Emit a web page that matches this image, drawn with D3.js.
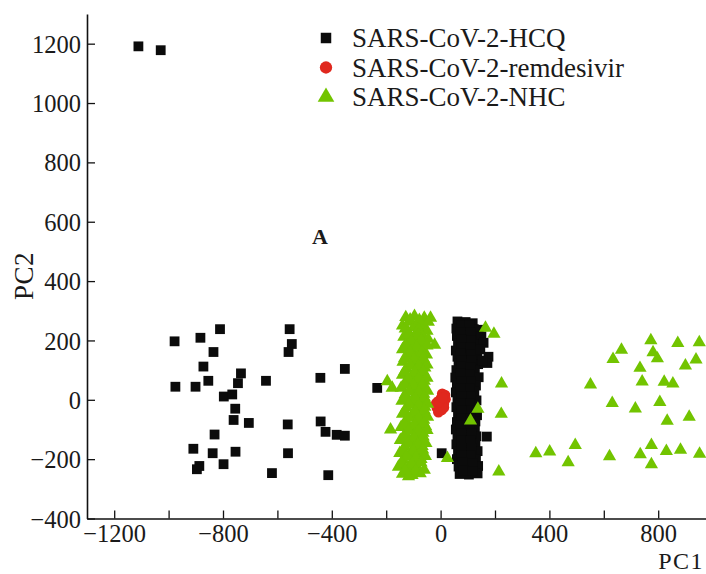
<!DOCTYPE html>
<html>
<head>
<meta charset="utf-8">
<script src="https://cdn.jsdelivr.net/npm/d3@7"></script>
<style>
  html, body { margin: 0; padding: 0; background: #fff; }
  svg text { font-family: "Liberation Serif", "Times New Roman", serif; fill: #1a1a1a; }
</style>
</head>
<body>
<svg id="chart" width="706" height="574"></svg>
<script>
// PCA scores [PC1, PC2] for each trajectory set
const seriesNames = ["SARS-CoV-2-HCQ", "SARS-CoV-2-remdesivir", "SARS-CoV-2-NHC"];
const seriesColors = ["#0b0b0b", "#e0281e", "#72c400"];

const hcqPoints = [
  [-1111, 1191], [-1029, 1178],
  [-811, 238], [-555, 238], [-978, 197], [-883, 209], [-547, 188], [-559, 161],
  [-835, 161], [-872, 112], [-352, 104], [-734, 89], [-854, 64], [-745, 56],
  [-642, 64], [-442, 74], [-975, 44], [-901, 44], [-233, 40], [-797, 11],
  [-766, 18], [-755, -30], [-761, -68], [-705, -78], [-562, -83], [-441, -73],
  [-423, -108], [-382, -118], [-352, -121], [-831, -117], [-909, -165], [-838, -180],
  [-754, -175], [-561, -180], [-887, -223], [-896, -234], [-798, -217], [-620, -247],
  [-413, -254], [4, -180], [170, -124], [-66, 34], [-67, -67],
  [62, 264], [92, 262], [118, 258],
  [58, 240], [88, 242], [122, 238], [140, 236],
  [60, 215], [95, 217], [128, 212], [150, 214],
  [64, 190], [100, 192], [132, 188], [158, 192],
  [56, 166], [90, 163], [120, 167],
  [62, 145], [98, 143], [135, 147], [176, 145],
  [66, 122], [102, 124], [138, 120], [172, 124],
  [58, 100], [92, 98], [126, 102],
  [54, 75], [88, 77], [118, 73], [140, 76],
  [60, 50], [96, 52], [130, 48],
  [56, 25], [92, 23], [124, 27],
  [62, 0], [98, 2], [132, -2],
  [58, -25], [90, -23], [122, -27],
  [64, -50], [100, -48], [134, -52],
  [60, -75], [94, -77], [128, -73],
  [56, -100], [90, -98], [126, -102],
  [62, -125], [98, -127], [132, -123],
  [58, -150], [92, -148], [128, -152],
  [64, -175], [100, -177], [136, -173],
  [60, -200], [96, -198], [130, -202],
  [66, -225], [102, -227], [138, -223],
  [70, -250], [104, -252], [136, -248],
  [76, 252], [106, 250], [74, 228], [110, 226], [78, 203], [112, 201],
  [76, 178], [110, 176], [146, 170], [74, 155], [112, 154], [78, 133],
  [114, 132], [154, 132], [76, 111], [110, 110], [74, 88], [108, 86],
  [76, 62], [112, 63], [74, 37], [108, 38], [76, 12], [112, 13],
  [74, -12], [108, -13], [78, -37], [112, -36], [76, -62], [110, -63],
  [74, -87], [108, -88], [78, -112], [114, -113], [76, -137], [110, -138],
  [78, -162], [114, -163], [76, -187], [112, -188], [80, -212], [116, -213],
  [84, -238], [118, -240]
];

const remdesivirPoints = [
  [16, 16], [6, 20], [18, 2], [2, 6], [-10, -6], [12, -14], [-2, -22],
  [-14, -26], [4, -34], [-8, -42], [-16, -12], [12, -26], [-4, -8], [8, 6]
];

const nhcPoints = [
  [-128, 278], [-96, 282], [-60, 276], [-37, 276], [-110, 262], [-75, 258],
  [-140, 250], [-100, 244], [-62, 246], [-120, 230], [-85, 226], [-50, 232],
  [-135, 212], [-100, 208], [-65, 214], [-22, 185], [-125, 192], [-90, 188],
  [-55, 194], [-140, 170], [-105, 166], [-70, 172], [-120, 150], [-85, 146],
  [-52, 152], [-138, 128], [-102, 124], [-68, 130], [-125, 106], [-90, 102],
  [-58, 108], [-140, 84], [-105, 80], [-72, 86], [-196, 62], [-178, 40],
  [-128, 62], [-92, 58], [-60, 64], [-145, 40], [-110, 36], [-75, 42],
  [-130, 18], [-95, 14], [-62, 20], [-142, -4], [-108, -8], [-74, -2],
  [-125, -26], [-90, -30], [-58, -24], [-55, -90], [-184, -101],
  [-140, -48], [-105, -52], [-72, -46], [-128, -70], [-92, -74], [-62, -68],
  [-145, -92], [-110, -96], [-78, -90], [-130, -114], [-96, -118], [-65, -112],
  [-148, -136], [-112, -140], [-80, -134], [-132, -158], [-98, -162], [-68, -156],
  [-150, -180], [-115, -184], [-82, -178], [-138, -202], [-104, -206], [-72, -200],
  [-155, -226], [-120, -230], [-88, -224], [-140, -250], [-105, -254], [-75, -248],
  [-112, 270], [-78, 268], [-45, 262], [-130, 240], [-82, 236], [-118, 220],
  [-82, 218], [-46, 205], [-108, 198], [-72, 200], [-128, 180], [-88, 178],
  [-50, 182], [-112, 160], [-68, 160], [-132, 140], [-98, 136], [-64, 140],
  [-112, 116], [-80, 114], [-50, 118], [-132, 96], [-96, 92], [-64, 96],
  [-118, 72], [-82, 70], [-50, 74], [-132, 50], [-100, 48], [-66, 52],
  [-116, 28], [-80, 24], [-48, 30], [-130, 6], [-92, 2], [-60, 8],
  [-116, -16], [-80, -18], [-48, -14], [-132, -38], [-94, -40], [-60, -36],
  [-118, -60], [-80, -62], [-48, -58], [-134, -82], [-96, -84], [-62, -80],
  [-118, -104], [-82, -106], [-50, -102], [-136, -126], [-98, -128], [-64, -124],
  [-120, -148], [-84, -150], [-54, -146], [-138, -170], [-100, -172], [-66, -168],
  [-126, -192], [-90, -194], [-56, -190], [-142, -214], [-106, -216], [-72, -212],
  [-130, -238], [-92, -240], [-60, -236], [-118, -258],
  [25, -197], [137, -31], [110, -70],
  [165, 242], [196, 222], [224, 54], [223, -48], [214, -242],
  [551, 51], [631, -11], [716, -30], [665, 168], [634, 137], [773, 200],
  [781, 160], [797, 139], [733, 107], [872, 191], [951, 193], [900, 115],
  [939, 135], [741, 61], [822, 60], [854, 54], [806, -8], [833, -71],
  [914, -58], [350, -181], [401, -175], [495, -153], [469, -211], [621, -191],
  [734, -184], [775, -153], [775, -218], [830, -173], [882, -169], [952, -182]
];

const xTicks = [-1200, -1000, -800, -600, -400, -200, 0, 200, 400, 600, 800];
const xTickLabels = [-1200, -800, -400, 0, 400, 800];
const yTicks = [-400, -200, 0, 200, 400, 600, 800, 1000, 1200];

const svg = d3.select("#chart");

const x = d3.scaleLinear().domain([-1300, 1000]).range([87, 712.6]);
const y = d3.scaleLinear().domain([-400, 1300]).range([518.5, 14]);

const fmt = v => (v < 0 ? "\u2212" + Math.abs(v) : String(v));

// axes with inward ticks
const xAxis = d3.axisBottom(x).tickValues(xTicks).tickSizeInner(-8).tickSizeOuter(0)
  .tickFormat(v => xTickLabels.includes(v) ? fmt(v) : "");
const yAxis = d3.axisLeft(y).tickValues(yTicks).tickSizeInner(-8).tickSizeOuter(0)
  .tickFormat(fmt);

const gx = svg.append("g").attr("transform", `translate(0,${y(-400)})`).call(xAxis);
const gy = svg.append("g").attr("transform", `translate(${x(-1300)},0)`).call(yAxis);

[gx, gy].forEach(g => {
  g.select(".domain").attr("stroke", "#111").attr("stroke-width", 1.6);
  g.selectAll(".tick line").attr("stroke", "#111").attr("stroke-width", 1.3);
  g.selectAll(".tick text").attr("font-size", 24.5).attr("fill", "#1a1a1a")
    .style("font-family", "'Liberation Serif', serif");
});
gx.selectAll(".tick text").attr("dy", "0.75em").attr("y", 5);
gy.selectAll(".tick text").attr("x", -6).attr("dy", "0.35em");

// axis titles
svg.append("text").attr("x", 704).attr("y", 568.5).attr("text-anchor", "end")
  .attr("font-size", 24).attr("letter-spacing", 1.5).text("PC1");
svg.append("text").attr("transform", `translate(33,276) rotate(-90)`)
  .attr("text-anchor", "middle").attr("font-size", 27).attr("letter-spacing", 0.5).text("PC2");

svg.append("text").attr("x", 320).attr("y", 244).attr("text-anchor", "middle")
  .attr("font-size", 22).attr("font-weight", "bold").text("A");

const symSquare = d3.symbol().type(d3.symbolSquare).size(96);
const symCircle = d3.symbol().type(d3.symbolCircle).size(90);
const symTriangle = d3.symbol().type(d3.symbolTriangle).size(76);

function drawSeries(points, gen, color) {
  svg.append("g").selectAll("path").data(points).join("path")
    .attr("d", gen)
    .attr("transform", d => `translate(${x(d[0])},${y(d[1])})`)
    .attr("fill", color);
}

drawSeries(hcqPoints, symSquare, seriesColors[0]);
drawSeries(remdesivirPoints, symCircle, seriesColors[1]);
drawSeries(nhcPoints, symTriangle, seriesColors[2]);

// legend
const legendGens = [
  d3.symbol().type(d3.symbolSquare).size(110),
  d3.symbol().type(d3.symbolCircle).size(120),
  d3.symbol().type(d3.symbolTriangle).size(120)
];
const legend = svg.append("g");
seriesNames.forEach((name, i) => {
  const ly = 38 + i * 29.5;
  legend.append("path").attr("d", legendGens[i]())
    .attr("transform", `translate(326,${ly})`).attr("fill", seriesColors[i]);
  legend.append("text").attr("x", 352).attr("y", ly).attr("dy", "0.35em")
    .attr("font-size", 27).text(name);
});
</script>
</body>
</html>
